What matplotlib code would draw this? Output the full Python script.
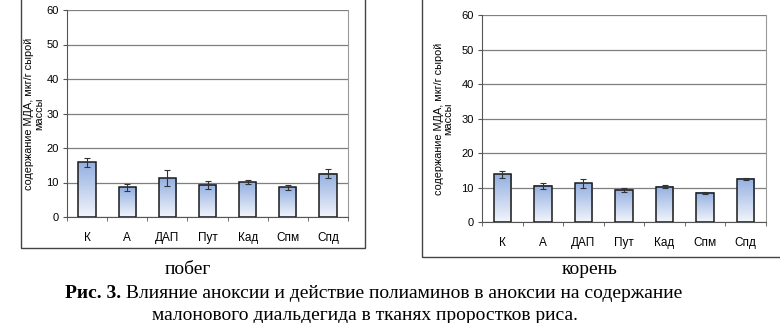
import numpy as np
import matplotlib
matplotlib.use("Agg")
import matplotlib.pyplot as plt
from matplotlib.colors import LinearSegmentedColormap
from matplotlib.patches import Rectangle

categories = ["К", "А", "ДАП", "Пут", "Кад", "Спм", "Спд"]

shoot_values = [15.8, 8.6, 11.2, 9.3, 10.1, 8.6, 12.6]
shoot_errors = [1.4, 1.1, 2.3, 1.1, 0.5, 0.8, 1.2]

root_values = [13.8, 10.5, 11.2, 9.4, 10.2, 8.5, 12.5]
root_errors = [1.1, 0.9, 1.2, 0.6, 0.4, 0.3, 0.3]

y_ticks = [0, 10, 20, 30, 40, 50, 60]
y_label = "содержание МДА, мкг/г сырой\nмассы"
panel_titles = ["побег", "корень"]
caption_bold = "Рис. 3."
caption_line1 = " Влияние аноксии и действие полиаминов в аноксии на содержание"
caption_line2 = "малонового диальдегида в тканях проростков риса."

sans = ["Liberation Sans", "DejaVu Sans"]
serif = ["Liberation Serif", "DejaVu Serif"]

bar_cmap = LinearSegmentedColormap.from_list("bar", ["#f2f5fc", "#93afe0"])

W, H = 780, 323
fig = plt.figure(figsize=(W / 100, H / 100), dpi=100)


def draw_panel(rect, values, errors, label_x):
    ax = fig.add_axes(rect)
    x = np.arange(len(categories))
    width = 0.43
    bars = ax.bar(x, values, width=width, facecolor="none",
                  edgecolor="#1a1a1a", linewidth=1.1, zorder=4)
    grad = np.linspace(0, 1, 256).reshape(-1, 1)
    for b in bars:
        x0, y0 = b.get_x(), b.get_y()
        ax.imshow(grad, cmap=bar_cmap, origin="lower", aspect="auto",
                  extent=(x0, x0 + b.get_width(), y0, y0 + b.get_height()),
                  zorder=3, interpolation="bilinear")
    ax.errorbar(x, values, yerr=errors, fmt="none", ecolor="#333333",
                elinewidth=0.8, capsize=2.5, capthick=0.8, zorder=5)
    ax.set_xlim(-0.5, len(categories) - 0.5)
    ax.set_ylim(0, 60)
    ax.set_yticks(y_ticks)
    ax.yaxis.grid(True, color="#7f7f7f", linewidth=0.9, zorder=1)
    ax.set_axisbelow(True)
    ax.set_xticks(x)
    ax.set_xticklabels(categories, family=sans, fontsize=8.5)
    ax.tick_params(axis="x", length=0, pad=11)
    ax.set_xticks(np.arange(-0.5, len(categories)), minor=True)
    ax.tick_params(axis="x", which="minor", length=3, color="#555555",
                   direction="out")
    ax.tick_params(axis="y", length=3, color="#555555", labelsize=8,
                   pad=3)
    for lab in ax.get_yticklabels():
        lab.set_family(sans)
    ax.spines["top"].set_visible(False)
    ax.spines["right"].set_color("#9a9a9a")
    ax.spines["left"].set_color("#555555")
    ax.spines["bottom"].set_color("#555555")
    ax.set_ylabel(y_label, family=sans, fontsize=7.8, linespacing=0.95)
    ax.yaxis.set_label_coords(label_x, 0.5)
    ax.set_facecolor("none")
    return ax


# outer frames around each chart
fig.patches.append(Rectangle((21 / W, (H - 248) / H), 344 / W, 0.9,
                             transform=fig.transFigure, fill=False,
                             edgecolor="#444444", linewidth=1.0))
fig.patches.append(Rectangle((422 / W, (H - 257) / H), 0.6, 0.9,
                             transform=fig.transFigure, fill=False,
                             edgecolor="#444444", linewidth=1.0))

draw_panel([67 / W, (H - 217) / H, 281 / W, 207 / H],
           shoot_values, shoot_errors, -0.082)
draw_panel([482 / W, (H - 222) / H, 284 / W, 207 / H],
           root_values, root_errors, -0.1)

fig.text(188 / W, 1 - 274 / H, panel_titles[0], family=serif, fontsize=14,
         ha="center", va="baseline")
fig.text(590 / W, 1 - 274 / H, panel_titles[1], family=serif, fontsize=14,
         ha="center", va="baseline")

t1 = fig.text(65 / W, 1 - 298 / H, caption_bold, family=serif, fontsize=14,
              weight="bold", ha="left", va="baseline")
fig.canvas.draw()
bb = t1.get_window_extent()
fig.text(bb.x1 / W, 1 - 298 / H, caption_line1, family=serif, fontsize=14,
         ha="left", va="baseline")
fig.text(365 / W, 1 - 320 / H, caption_line2, family=serif, fontsize=14,
         ha="center", va="baseline")

fig.savefig("out.png", dpi=100)
